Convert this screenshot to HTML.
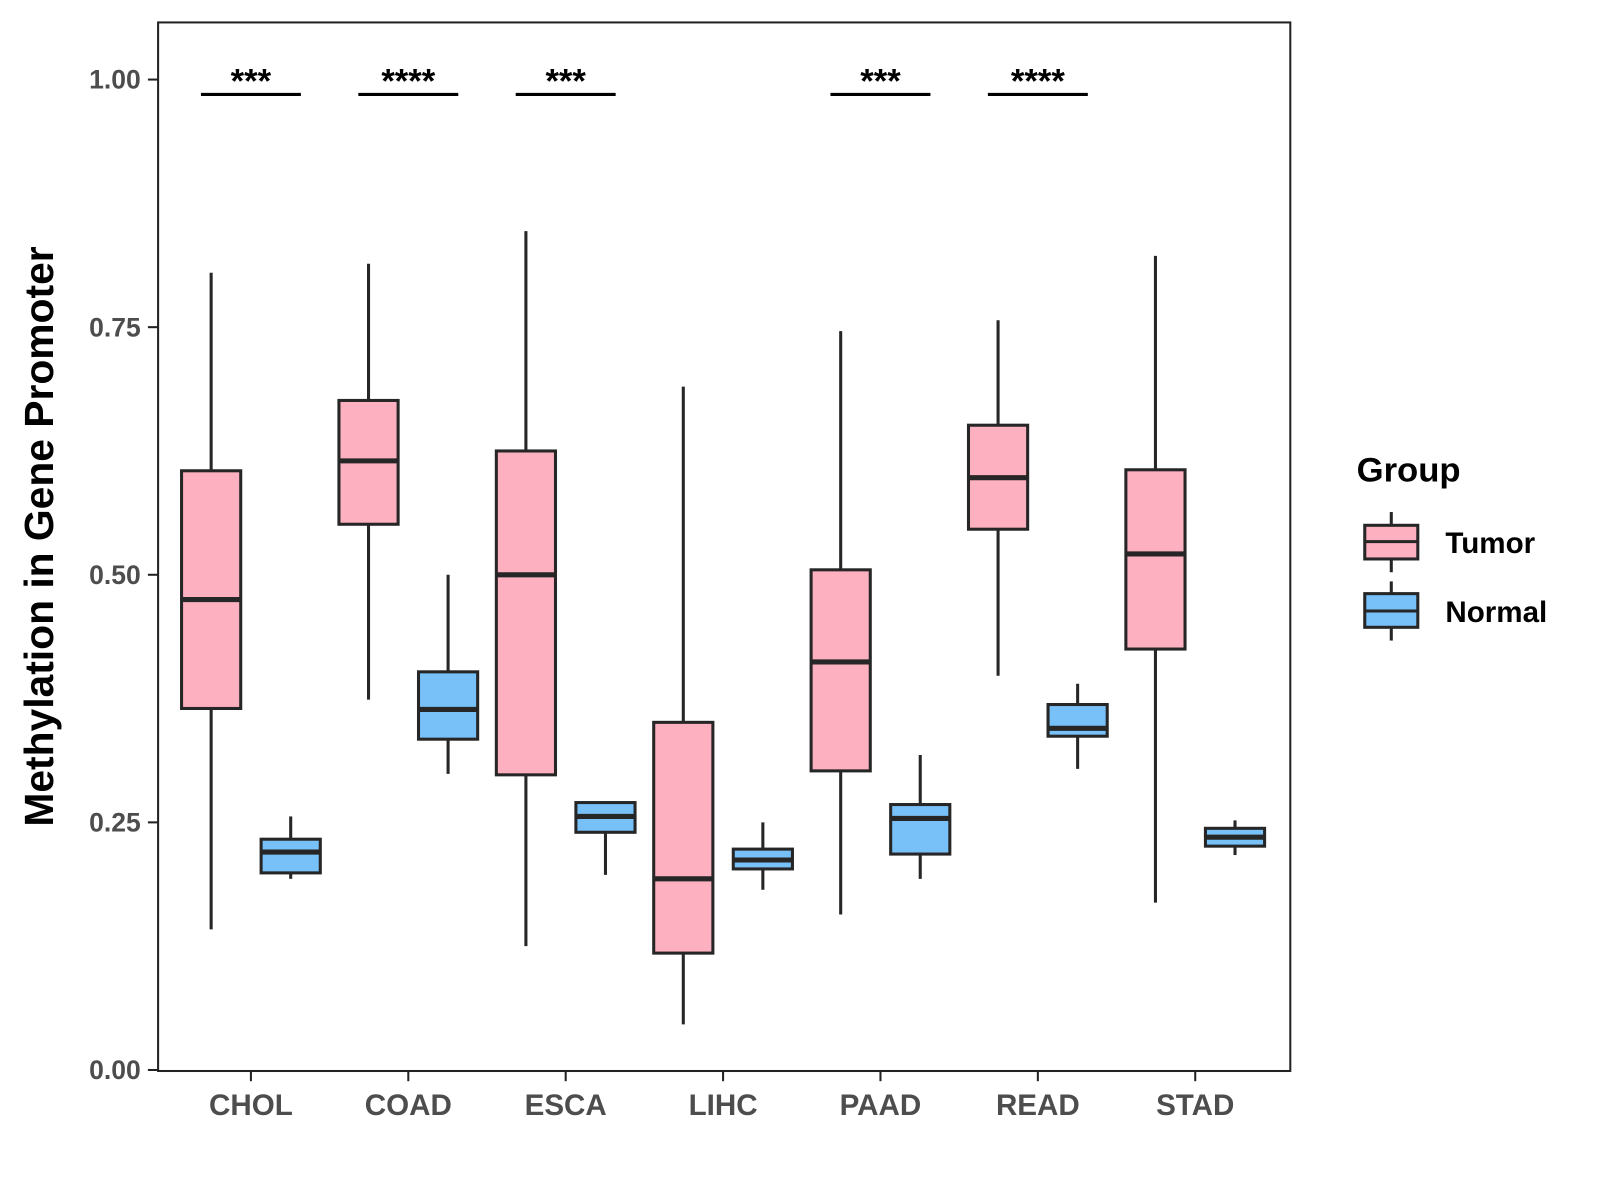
<!DOCTYPE html>
<html><head><meta charset="utf-8"><style>
html,body{margin:0;padding:0;background:#fff}
svg{display:block;font-family:"Liberation Sans",Arial,sans-serif}
</style></head><body>
<svg id="chart" width="1600" height="1200" viewBox="0 0 1600 1200">
<g transform="scale(1.02)">
<rect x="155" y="22" width="1110" height="1028" fill="#fff" stroke="#222" stroke-width="2"/>
<g id="axes"></g>
<g id="marks"></g>
<text x="52" y="526" transform="rotate(-90 52 526)" text-anchor="middle" font-size="40" font-weight="bold" fill="#000">Methylation in Gene Promoter</text>
<g>
<text x="1330" y="472" font-size="34" font-weight="bold" fill="#000">Group</text>
<g>
<line x1="1364" y1="502" x2="1364" y2="561" stroke="#262626" stroke-width="3"/>
<rect x="1338" y="515" width="52" height="33" fill="#FDB0C0" stroke="#262626" stroke-width="3"/>
<line x1="1338" y1="531" x2="1390" y2="531" stroke="#262626" stroke-width="3"/>
<text x="1417" y="542" font-size="29" font-weight="bold" fill="#000">Tumor</text>
</g>
<g>
<line x1="1364" y1="570" x2="1364" y2="628" stroke="#262626" stroke-width="3"/>
<rect x="1338" y="582" width="52" height="33" fill="#78C0F8" stroke="#262626" stroke-width="3"/>
<line x1="1338" y1="599" x2="1390" y2="599" stroke="#262626" stroke-width="3"/>
<text x="1417" y="610" font-size="29" font-weight="bold" fill="#000">Normal</text>
</g>
</g>
</g>
</svg>
<script>
const categories=["CHOL","COAD","ESCA","LIHC","PAAD","READ","STAD"];
// [min, q1, median, q3, max]
const tumorStats=[[0.142,0.365,0.475,0.605,0.805],[0.374,0.551,0.615,0.676,0.814],[0.125,0.298,0.500,0.625,0.847],[0.046,0.118,0.193,0.351,0.690],[0.157,0.302,0.412,0.505,0.746],[0.398,0.546,0.598,0.651,0.757],[0.169,0.425,0.521,0.606,0.822]];
const normalStats=[[0.193,0.199,0.220,0.233,0.256],[0.299,0.334,0.364,0.402,0.500],[0.197,0.240,0.256,0.270,0.270],[0.182,0.203,0.212,0.223,0.250],[0.193,0.218,0.254,0.268,0.318],[0.304,0.337,0.345,0.369,0.390],[0.217,0.226,0.235,0.244,0.252]];
const sigLabels=["***","****","***","","***","****",""];
const yTicks=[0,0.25,0.5,0.75,1.0];
const yTickLabels=["0.00","0.25","0.50","0.75","1.00"];
const sigY=0.985;

const NS="http://www.w3.org/2000/svg";
const y=v=>1049-v*971;
const x=i=>246+i*154.3;
function mk(tag,attrs,parent){const e=document.createElementNS(NS,tag);for(const k in attrs)e.setAttribute(k,attrs[k]);parent.appendChild(e);return e;}
const axes=document.getElementById('axes'),marks=document.getElementById('marks');
yTicks.forEach((t,i)=>{
  const l=mk('line',{x1:145,x2:155,y1:y(t),y2:y(t),stroke:'#222','stroke-width':2},axes);
  
  
  const tx=mk('text',{x:138,y:y(t)+9,'text-anchor':'end','font-size':26,'font-weight':'bold',fill:'#4d4d4d'},axes);
  tx.textContent=yTickLabels[i];
  
  
});
categories.forEach((c,i)=>{
  const l=mk('line',{x1:x(i),x2:x(i),y1:1050,y2:1060,stroke:'#222','stroke-width':2},axes);
  
  
  const tx=mk('text',{x:x(i),y:1093,'text-anchor':'middle','font-size':29,'font-weight':'bold',fill:'#4d4d4d'},axes);
  tx.textContent=c;
  
  
});
function box(s,cx,fill,name){
  const g=mk('g',{},marks);
  
  
  mk('line',{x1:cx,x2:cx,y1:y(s[0]),y2:y(s[4]),stroke:'#262626','stroke-width':3},g);
  mk('rect',{x:cx-29,y:y(s[3]),width:58,height:y(s[1])-y(s[3]),fill:fill,stroke:'#262626','stroke-width':3},g);
  mk('line',{x1:cx-29,x2:cx+29,y1:y(s[2]),y2:y(s[2]),stroke:'#262626','stroke-width':5},g);
}
categories.forEach((c,i)=>{
  box(tumorStats[i],x(i)-39,'#FDB0C0','box-tumor-'+c.toLowerCase());
  box(normalStats[i],x(i)+39,'#78C0F8','box-normal-'+c.toLowerCase());
  if(sigLabels[i]){
    const l=mk('line',{x1:x(i)-49,x2:x(i)+49,y1:y(sigY),y2:y(sigY),stroke:'#000','stroke-width':3},marks);
    
    
    const t=mk('text',{x:x(i),y:y(sigY)-2,'text-anchor':'middle','font-size':34,'font-weight':'bold',fill:'#000'},marks);
    t.textContent=sigLabels[i];
    
    
  }
});
</script>
</body></html>
